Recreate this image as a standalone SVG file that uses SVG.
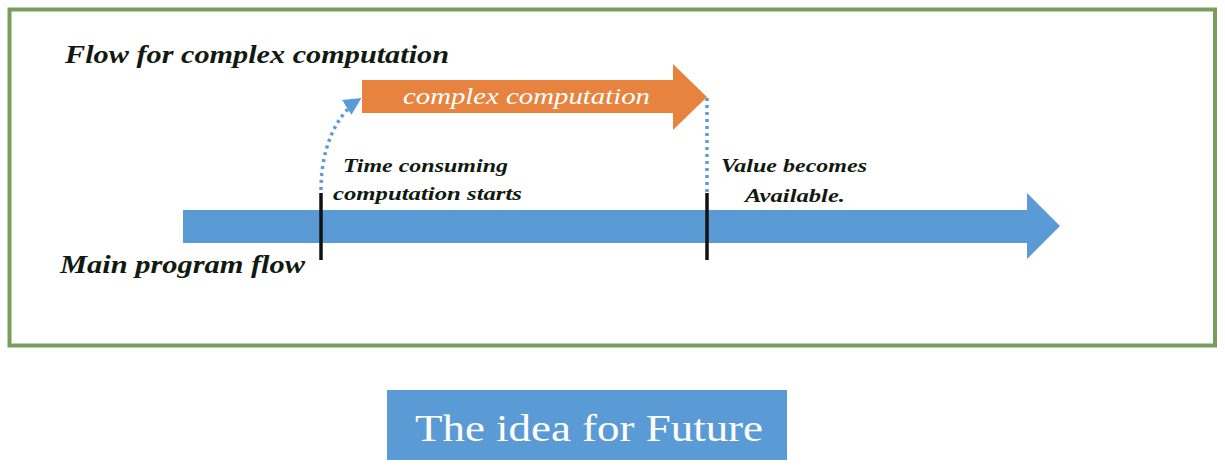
<svg xmlns="http://www.w3.org/2000/svg" width="1225" height="466" viewBox="0 0 1225 466">
<style>
.lbl{font-family:"Liberation Serif","DejaVu Serif",serif;font-style:italic;font-weight:bold;fill:#111a11}
.wt{font-family:"Liberation Serif","DejaVu Serif",serif;fill:#ffffff}
.tick{stroke:#111;stroke-width:3.5}
.dot{fill:none;stroke:#5b9bd5;stroke-width:3.5;stroke-dasharray:3 4}
</style>
<defs>
<marker id="ah" viewBox="0 0 10 10" refX="9" refY="5" markerWidth="5" markerHeight="5" orient="auto" markerUnits="strokeWidth">
<path d="M0,0 L10,5 L0,10 z" fill="#5b9bd5"/>
</marker>
</defs>
<rect width="1225" height="466" fill="#ffffff"/>
<g id="frame">
<rect x="9.5" y="9.5" width="1205.5" height="336" fill="none" stroke="#789e5c" stroke-width="4"/>
</g>
<g id="main-flow">
<polygon points="183,210 1027,210 1027,193 1060,226 1027,259 1027,243 183,243" fill="#5b9bd5"/>
<text class="lbl" x="60" y="273" font-size="26" textLength="245" lengthAdjust="spacingAndGlyphs">Main program flow</text>
</g>
<g id="complex-flow">
<polygon points="362,80 673,80 673,64 707,97 673,130 673,113 362,113" fill="#e8833f"/>
<text class="wt" x="403" y="104" font-size="24" font-style="italic" textLength="247" lengthAdjust="spacingAndGlyphs">complex computation</text>
<text class="lbl" x="65" y="63" font-size="26" textLength="384" lengthAdjust="spacingAndGlyphs">Flow for complex computation</text>
</g>
<g id="start">
<line class="tick" x1="321" y1="193" x2="321" y2="260"/>
<text class="lbl" x="343" y="172" font-size="19" textLength="165" lengthAdjust="spacingAndGlyphs">Time consuming</text>
<text class="lbl" x="333" y="200" font-size="19" textLength="189" lengthAdjust="spacingAndGlyphs">computation starts</text>
</g>
<g id="end">
<line class="tick" x1="707" y1="193" x2="707" y2="260"/>
<text class="lbl" x="721" y="172" font-size="19" textLength="146" lengthAdjust="spacingAndGlyphs">Value becomes</text>
<text class="lbl" x="745" y="202" font-size="19" textLength="100" lengthAdjust="spacingAndGlyphs">Available.</text>
</g>
<g id="connectors">
<path class="dot" d="M321,190 C321,150 335,115 360,99" marker-end="url(#ah)"/>
<path class="dot" d="M707,98 L707,192"/>
</g>
<g id="title">
<rect x="387" y="390" width="400" height="70" fill="#5b9bd5"/>
<text class="wt" x="415" y="441" font-size="37" textLength="348" lengthAdjust="spacingAndGlyphs">The idea for Future</text>
</g>
</svg>
